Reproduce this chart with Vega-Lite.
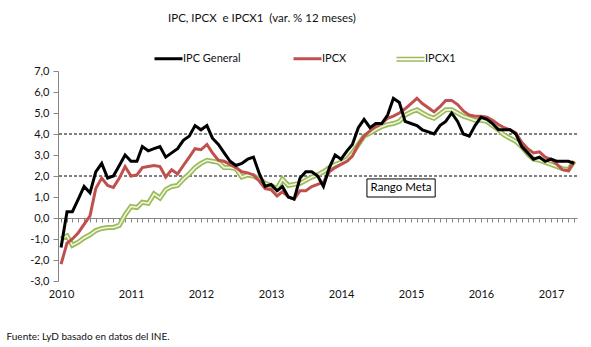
{
  "$schema": "https://vega.github.io/schema/vega-lite/v6.json",
  "width": 519,
  "height": 210,
  "autosize": {"type": "none"},
  "padding": {"left": 58, "top": 71, "right": 14, "bottom": 66},
  "background": "white",
  "config": {
    "font": "Lato",
    "view": {"stroke": null},
    "axis": {"domainColor": "#868686", "tickColor": "#868686", "labelColor": "#111", "labelFont": "Lato", "labelFontSize": 11, "grid": false},
    "axisY": {"labelOverlap": false, "tickSize": 5, "labelPadding": 4, "title": null, "tickCount": 12}
  },
  "title": {"text": "IPC, IPCX\u00a0 e IPCX1\u00a0 (var. % 12 meses)", "anchor": "start", "frame": "group", "dx": 110, "offset": 29, "fontSize": 11.5, "fontWeight": "normal", "font": "Lato", "color": "#111"},
  "datasets": {
    "cpi": [
      {"d": "2010-01-01", "ipc": -1.4, "ipcx": -2.2, "ipcx1": -1.0},
      {"d": "2010-02-01", "ipc": 0.3, "ipcx": -1.2, "ipcx1": -0.85},
      {"d": "2010-03-01", "ipc": 0.3, "ipcx": -1.0, "ipcx1": -1.3},
      {"d": "2010-04-01", "ipc": 0.9, "ipcx": -0.7, "ipcx1": -1.15},
      {"d": "2010-05-01", "ipc": 1.5, "ipcx": -0.3, "ipcx1": -0.95},
      {"d": "2010-06-01", "ipc": 1.2, "ipcx": 0.1, "ipcx1": -0.8},
      {"d": "2010-07-01", "ipc": 2.2, "ipcx": 1.4, "ipcx1": -0.6},
      {"d": "2010-08-01", "ipc": 2.6, "ipcx": 1.9, "ipcx1": -0.5},
      {"d": "2010-09-01", "ipc": 1.9, "ipcx": 1.55, "ipcx1": -0.45},
      {"d": "2010-10-01", "ipc": 2.0, "ipcx": 1.45, "ipcx1": -0.45},
      {"d": "2010-11-01", "ipc": 2.5, "ipcx": 1.9, "ipcx1": -0.35},
      {"d": "2010-12-01", "ipc": 3.0, "ipcx": 2.45, "ipcx1": 0.15},
      {"d": "2011-01-01", "ipc": 2.7, "ipcx": 2.0, "ipcx1": 0.55},
      {"d": "2011-02-01", "ipc": 2.7, "ipcx": 2.05, "ipcx1": 0.5},
      {"d": "2011-03-01", "ipc": 3.4, "ipcx": 2.4, "ipcx1": 0.75},
      {"d": "2011-04-01", "ipc": 3.2, "ipcx": 2.45, "ipcx1": 0.7},
      {"d": "2011-05-01", "ipc": 3.3, "ipcx": 2.5, "ipcx1": 1.15},
      {"d": "2011-06-01", "ipc": 3.4, "ipcx": 2.45, "ipcx1": 0.95},
      {"d": "2011-07-01", "ipc": 2.9, "ipcx": 1.95, "ipcx1": 1.35},
      {"d": "2011-08-01", "ipc": 3.1, "ipcx": 2.3, "ipcx1": 1.5},
      {"d": "2011-09-01", "ipc": 3.3, "ipcx": 2.1, "ipcx1": 1.55},
      {"d": "2011-10-01", "ipc": 3.7, "ipcx": 2.5, "ipcx1": 1.85},
      {"d": "2011-11-01", "ipc": 3.9, "ipcx": 2.9, "ipcx1": 2.1},
      {"d": "2011-12-01", "ipc": 4.4, "ipcx": 3.3, "ipcx1": 2.4},
      {"d": "2012-01-01", "ipc": 4.2, "ipcx": 3.25, "ipcx1": 2.6},
      {"d": "2012-02-01", "ipc": 4.4, "ipcx": 3.5, "ipcx1": 2.75},
      {"d": "2012-03-01", "ipc": 3.8, "ipcx": 3.1, "ipcx1": 2.7},
      {"d": "2012-04-01", "ipc": 3.5, "ipcx": 2.75, "ipcx1": 2.65},
      {"d": "2012-05-01", "ipc": 3.1, "ipcx": 2.7, "ipcx1": 2.4},
      {"d": "2012-06-01", "ipc": 2.7, "ipcx": 2.55, "ipcx1": 2.4},
      {"d": "2012-07-01", "ipc": 2.5, "ipcx": 2.4, "ipcx1": 2.35},
      {"d": "2012-08-01", "ipc": 2.6, "ipcx": 2.2, "ipcx1": 1.95},
      {"d": "2012-09-01", "ipc": 2.8, "ipcx": 2.15, "ipcx1": 2.05},
      {"d": "2012-10-01", "ipc": 2.9, "ipcx": 2.05, "ipcx1": 2.0},
      {"d": "2012-11-01", "ipc": 2.1, "ipcx": 1.75, "ipcx1": 1.85},
      {"d": "2012-12-01", "ipc": 1.5, "ipcx": 1.4, "ipcx1": 1.65},
      {"d": "2013-01-01", "ipc": 1.6, "ipcx": 1.35, "ipcx1": 1.55},
      {"d": "2013-02-01", "ipc": 1.3, "ipcx": 1.05, "ipcx1": 1.4},
      {"d": "2013-03-01", "ipc": 1.5, "ipcx": 1.25, "ipcx1": 1.85},
      {"d": "2013-04-01", "ipc": 1.0, "ipcx": 1.0, "ipcx1": 1.55},
      {"d": "2013-05-01", "ipc": 0.9, "ipcx": 0.9, "ipcx1": 1.6},
      {"d": "2013-06-01", "ipc": 1.9, "ipcx": 1.3, "ipcx1": 1.65},
      {"d": "2013-07-01", "ipc": 2.2, "ipcx": 1.3, "ipcx1": 1.8},
      {"d": "2013-08-01", "ipc": 2.2, "ipcx": 1.5, "ipcx1": 1.95},
      {"d": "2013-09-01", "ipc": 2.0, "ipcx": 1.6, "ipcx1": 2.05},
      {"d": "2013-10-01", "ipc": 1.5, "ipcx": 1.7, "ipcx1": 2.2},
      {"d": "2013-11-01", "ipc": 2.4, "ipcx": 2.2, "ipcx1": 2.4},
      {"d": "2013-12-01", "ipc": 3.0, "ipcx": 2.4, "ipcx1": 2.55},
      {"d": "2014-01-01", "ipc": 2.8, "ipcx": 2.55, "ipcx1": 2.65},
      {"d": "2014-02-01", "ipc": 3.2, "ipcx": 2.7, "ipcx1": 2.8},
      {"d": "2014-03-01", "ipc": 3.5, "ipcx": 2.95, "ipcx1": 3.1},
      {"d": "2014-04-01", "ipc": 4.3, "ipcx": 3.5, "ipcx1": 3.5},
      {"d": "2014-05-01", "ipc": 4.7, "ipcx": 3.9, "ipcx1": 3.9},
      {"d": "2014-06-01", "ipc": 4.3, "ipcx": 4.15, "ipcx1": 4.05},
      {"d": "2014-07-01", "ipc": 4.5, "ipcx": 4.35, "ipcx1": 4.2},
      {"d": "2014-08-01", "ipc": 4.5, "ipcx": 4.5, "ipcx1": 4.35},
      {"d": "2014-09-01", "ipc": 4.9, "ipcx": 4.75, "ipcx1": 4.45},
      {"d": "2014-10-01", "ipc": 5.7, "ipcx": 4.85, "ipcx1": 4.5},
      {"d": "2014-11-01", "ipc": 5.5, "ipcx": 5.0, "ipcx1": 4.6},
      {"d": "2014-12-01", "ipc": 4.6, "ipcx": 5.2, "ipcx1": 4.9},
      {"d": "2015-01-01", "ipc": 4.5, "ipcx": 5.45, "ipcx1": 5.05},
      {"d": "2015-02-01", "ipc": 4.4, "ipcx": 5.7, "ipcx1": 5.15},
      {"d": "2015-03-01", "ipc": 4.2, "ipcx": 5.45, "ipcx1": 5.0},
      {"d": "2015-04-01", "ipc": 4.1, "ipcx": 5.25, "ipcx1": 4.85},
      {"d": "2015-05-01", "ipc": 4.0, "ipcx": 5.05, "ipcx1": 4.75},
      {"d": "2015-06-01", "ipc": 4.4, "ipcx": 5.3, "ipcx1": 4.95},
      {"d": "2015-07-01", "ipc": 4.6, "ipcx": 5.6, "ipcx1": 5.15},
      {"d": "2015-08-01", "ipc": 5.0, "ipcx": 5.6, "ipcx1": 5.15},
      {"d": "2015-09-01", "ipc": 4.6, "ipcx": 5.4, "ipcx1": 5.0},
      {"d": "2015-10-01", "ipc": 4.0, "ipcx": 5.1, "ipcx1": 4.85},
      {"d": "2015-11-01", "ipc": 3.9, "ipcx": 4.9, "ipcx1": 4.75},
      {"d": "2015-12-01", "ipc": 4.4, "ipcx": 4.85, "ipcx1": 4.65},
      {"d": "2016-01-01", "ipc": 4.8, "ipcx": 4.85, "ipcx1": 4.65},
      {"d": "2016-02-01", "ipc": 4.7, "ipcx": 4.8, "ipcx1": 4.6},
      {"d": "2016-03-01", "ipc": 4.5, "ipcx": 4.65, "ipcx1": 4.4},
      {"d": "2016-04-01", "ipc": 4.2, "ipcx": 4.45, "ipcx1": 4.2},
      {"d": "2016-05-01", "ipc": 4.2, "ipcx": 4.3, "ipcx1": 3.95},
      {"d": "2016-06-01", "ipc": 4.2, "ipcx": 4.2, "ipcx1": 3.8},
      {"d": "2016-07-01", "ipc": 4.0, "ipcx": 4.05, "ipcx1": 3.65},
      {"d": "2016-08-01", "ipc": 3.4, "ipcx": 3.6, "ipcx1": 3.4},
      {"d": "2016-09-01", "ipc": 3.1, "ipcx": 3.3, "ipcx1": 3.05},
      {"d": "2016-10-01", "ipc": 2.8, "ipcx": 3.1, "ipcx1": 2.8},
      {"d": "2016-11-01", "ipc": 2.9, "ipcx": 3.15, "ipcx1": 2.75},
      {"d": "2016-12-01", "ipc": 2.7, "ipcx": 2.9, "ipcx1": 2.65},
      {"d": "2017-01-01", "ipc": 2.8, "ipcx": 2.8, "ipcx1": 2.55},
      {"d": "2017-02-01", "ipc": 2.7, "ipcx": 2.55, "ipcx1": 2.45},
      {"d": "2017-03-01", "ipc": 2.7, "ipcx": 2.3, "ipcx1": 2.35},
      {"d": "2017-04-01", "ipc": 2.7, "ipcx": 2.25, "ipcx1": 2.3},
      {"d": "2017-05-01", "ipc": 2.6, "ipcx": 2.7, "ipcx1": 2.7}
    ]
  },
  "layer": [
    {
      "data": {"values": [{"meta": 2}, {"meta": 4}]},
      "mark": {"type": "rule", "color": "#000", "strokeWidth": 1, "strokeDash": [3, 2]},
      "encoding": {
        "y": {"field": "meta", "type": "quantitative", "scale": {"domain": [-3, 7], "nice": false, "zero": false},
          "axis": {"values": [-3, -2, -1, 0, 1, 2, 3, 4, 5, 6, 7], "tickCount": 12, "labelOverlap": false, "labelExpr": "replace(replace(format(datum.value, '.1f'), '.', ','), '\u2212', '-')", "tickSize": 5, "labelPadding": 4, "title": null}}
      }
    },
    {
      "data": {"name": "cpi"},
      "mark": {"type": "line", "strokeWidth": 5, "interpolate": "linear"},
      "encoding": {
        "x": {"field": "d", "type": "temporal",
          "scale": {"type": "utc", "domain": [{"year": 2009, "month": 12, "date": 16, "utc": true}, {"year": 2017, "month": 5, "date": 16, "utc": true}]},
          "axis": {"tickCount": {"interval": "month", "step": 1}, "labelExpr": "utcmonth(datum.value) == 0 ? utcFormat(datum.value, '%Y') : ''", "labelOverlap": false, "labelFlush": false, "offset": -63, "tickSize": 4, "labelPadding": 66,
            "title": "Fuente: LyD basado en datos del INE.", "titleAnchor": "start", "titleAlign": "left", "titleBaseline": "alphabetic", "titleX": -52, "titleY": 121, "titleFontSize": 10, "titleFontWeight": "normal", "titleFont": "Lato", "titleColor": "#111"}},
        "y": {"field": "ipcx1", "type": "quantitative",
          "axis": {"values": [-3, -2, -1, 0, 1, 2, 3, 4, 5, 6, 7], "tickCount": 12, "labelOverlap": false, "labelExpr": "replace(replace(format(datum.value, '.1f'), '.', ','), '\u2212', '-')", "tickSize": 5, "labelPadding": 4, "title": null}},
        "color": {"datum": "IPCX1", "type": "nominal",
          "scale": {"domain": ["IPC General", "IPCX", "IPCX1"], "range": ["#000000", "#C0504D", "#9BBB59"]},
          "legend": {"orient": "none", "legendX": 105, "legendY": -18, "direction": "horizontal", "columns": 3, "columnPadding": 46, "title": null, "symbolType": "stroke", "symbolSize": 784, "symbolStrokeWidth": 3, "labelFont": "Lato", "labelFontSize": 11, "labelColor": "#111", "labelOffset": 9,
            "encode": {"symbols": {"update": {"shape": {"signal": "datum.value === 'IPCX1' ? 'M-1,-0.12H1M-1,0.12H1' : 'stroke'"}, "strokeWidth": {"signal": "datum.value === 'IPCX1' ? 1.6 : 3"}}}}}}
      }
    },
    {
      "data": {"name": "cpi"},
      "mark": {"type": "line", "strokeWidth": 1.6, "color": "#F1F5E2"},
      "encoding": {
        "x": {"field": "d", "type": "temporal"},
        "y": {"field": "ipcx1", "type": "quantitative",
          "axis": {"values": [-3, -2, -1, 0, 1, 2, 3, 4, 5, 6, 7], "tickCount": 12, "labelOverlap": false, "labelExpr": "replace(replace(format(datum.value, '.1f'), '.', ','), '\u2212', '-')", "tickSize": 5, "labelPadding": 4, "title": null}}
      }
    },
    {
      "data": {"name": "cpi"},
      "mark": {"type": "line", "strokeWidth": 3},
      "encoding": {
        "x": {"field": "d", "type": "temporal"},
        "y": {"field": "ipcx", "type": "quantitative",
          "axis": {"values": [-3, -2, -1, 0, 1, 2, 3, 4, 5, 6, 7], "tickCount": 12, "labelOverlap": false, "labelExpr": "replace(replace(format(datum.value, '.1f'), '.', ','), '\u2212', '-')", "tickSize": 5, "labelPadding": 4, "title": null}},
        "color": {"datum": "IPCX", "type": "nominal"}
      }
    },
    {
      "data": {"name": "cpi"},
      "mark": {"type": "line", "strokeWidth": 3},
      "encoding": {
        "x": {"field": "d", "type": "temporal"},
        "y": {"field": "ipc", "type": "quantitative",
          "axis": {"values": [-3, -2, -1, 0, 1, 2, 3, 4, 5, 6, 7], "tickCount": 12, "labelOverlap": false, "labelExpr": "replace(replace(format(datum.value, '.1f'), '.', ','), '\u2212', '-')", "tickSize": 5, "labelPadding": 4, "title": null}},
        "color": {"datum": "IPC General", "type": "nominal"}
      }
    },
    {
      "data": {"values": [{"label": "Rango Meta"}]},
      "mark": {"type": "rect", "fill": "white", "stroke": "#000", "strokeWidth": 1},
      "encoding": {
        "x": {"datum": {"year": 2014, "month": 5, "date": 16, "utc": true}, "type": "temporal"},
        "x2": {"datum": {"year": 2015, "month": 5, "date": 7, "utc": true}},
        "y": {"datum": 1.86, "type": "quantitative"},
        "y2": {"datum": 1.0}
      }
    },
    {
      "data": {"values": [{"label": "Rango Meta"}]},
      "mark": {"type": "text", "font": "Lato", "fontSize": 11.5, "fontWeight": "normal", "color": "#000", "align": "center", "baseline": "middle"},
      "encoding": {
        "x": {"datum": {"year": 2014, "month": 11, "date": 10, "utc": true}, "type": "temporal"},
        "y": {"datum": 1.43, "type": "quantitative"},
        "text": {"field": "label"}
      }
    }
  ]
}
